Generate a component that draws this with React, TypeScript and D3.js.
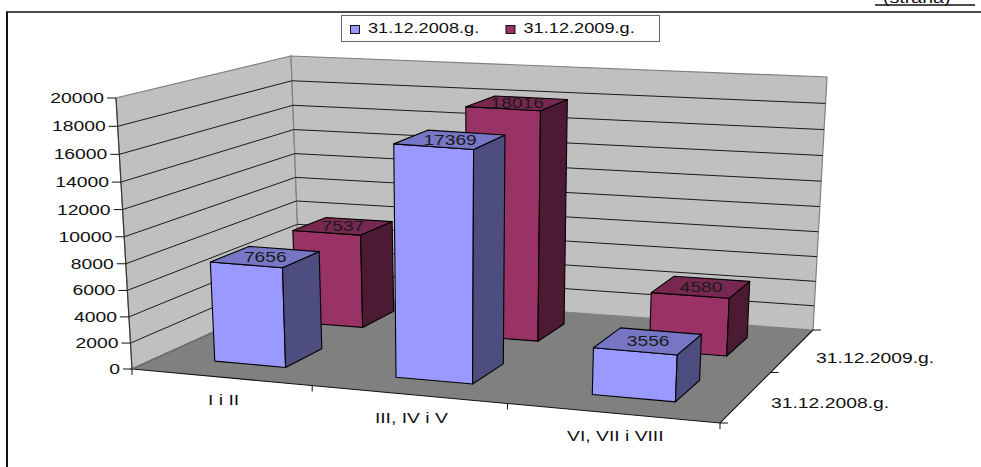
import React from "react";
import * as d3 from "d3";

const categories = ["I i II", "III, IV i V", "VI, VII i VIII"];
const seriesNames = ["31.12.2008.g.", "31.12.2009.g."];
const values2008 = [7656, 17369, 3556];
const values2009 = [7537, 18016, 4580];
const yTicks = [0, 2000, 4000, 6000, 8000, 10000, 12000, 14000, 16000, 18000, 20000];
const unitLabel = "(strana)";

const W = 981, H = 467;
type P = [number, number];
const floorQuad: P[] = [[132, 369], [720, 423], [813, 330], [300, 293]];
const topQuad: P[] = [[116, 98], [733, 143], [827, 77], [291, 56]];

// projective map of the unit square onto a quad
function quadMap(q: P[]) {
  const [[x0, y0], [x1, y1], [x2, y2], [x3, y3]] = q;
  const dx1 = x1 - x2, dx2 = x3 - x2, sx = x0 - x1 + x2 - x3;
  const dy1 = y1 - y2, dy2 = y3 - y2, sy = y0 - y1 + y2 - y3;
  const den = dx1 * dy2 - dx2 * dy1;
  const g = (sx * dy2 - dx2 * sy) / den;
  const h = (dx1 * sy - sx * dy1) / den;
  const a = x1 - x0 + g * x1, b = x3 - x0 + h * x3, c = x0;
  const d = y1 - y0 + g * y1, e = y3 - y0 + h * y3, f = y0;
  return (u: number, v: number): P => {
    const w = g * u + h * v + 1;
    return [(a * u + b * v + c) / w, (d * u + e * v + f) / w];
  };
}
const floorAt = quadMap(floorQuad);

const uScale = d3.scaleBand<string>().domain(categories).range([0.006, 1.006]).paddingInner(0.6).paddingOuter(0.3);
const dScale = d3.scaleBand<string>().domain(seriesNames).range([0, 1]).paddingInner(0.55).paddingOuter(0.3);
const vScale = d3.scaleLinear().domain([0, 20000]).range([0, 1]);

// a vertical edge's lift above the floor, blended between the four wall corners
function liftAt(u: number, d: number): P {
  const off = topQuad.map((p, i) => [p[0] - floorQuad[i][0], p[1] - floorQuad[i][1]]);
  const w = [(1 - u) * (1 - d), u * (1 - d), u * d, (1 - u) * d];
  return [d3.sum(off, (o, i) => o[0] * w[i]), d3.sum(off, (o, i) => o[1] * w[i])];
}

function project(u: number, d: number, v: number): P {
  const a = floorAt(u, d), l = liftAt(u, d);
  // slight vertical foreshortening, as in the reference's value axis
  const t = v / (v + (1 - v) * 1.05);
  return [a[0] + l[0] * t, a[1] + l[1] * t];
}
const poly = (pts: P[]) => (d3.line()(pts) as string) + "Z";

const FONT = "'Liberation Sans', Arial, sans-serif";
function Label(props: { x: number; y: number; text: string; anchor?: string; size?: number; sx?: number; fill?: string }) {
  const { x, y, text, anchor = "start", size = 14, sx = 1.38, fill = "#111" } = props;
  return (
    <text transform={`translate(${x},${y}) scale(${sx},1)`} textAnchor={anchor} fontFamily={FONT} fontSize={size} fill={fill}>
      {text}
    </text>
  );
}

const palettes = [
  { front: "#9999FF", top: "#7676C4", side: "#4D4D80" },
  { front: "#993366", top: "#772850", side: "#4D1A33" },
];
const seriesValues = [values2008, values2009];

function Bar(props: { cat: string; series: number }) {
  const { cat, series } = props;
  const val = seriesValues[series][categories.indexOf(cat)];
  const u0 = uScale(cat)!, u1 = u0 + uScale.bandwidth();
  const d0 = dScale(seriesNames[series])!, d1 = d0 + dScale.bandwidth();
  const v = vScale(val);
  const c = palettes[series];
  const stroke = { stroke: "#000", strokeWidth: 1.1, strokeLinejoin: "round" as const };
  const topFace = [project(u0, d0, v), project(u1, d0, v), project(u1, d1, v), project(u0, d1, v)];
  const centre = d3.polygonCentroid(topFace);
  return (
    <g>
      <path d={poly([project(u0, d0, 0), project(u1, d0, 0), project(u1, d0, v), project(u0, d0, v)])} fill={c.front} {...stroke} />
      <path d={poly([project(u1, d0, 0), project(u1, d1, 0), project(u1, d1, v), project(u1, d0, v)])} fill={c.side} {...stroke} />
      <path d={poly(topFace)} fill={c.top} {...stroke} />
      <Label x={centre[0]} y={centre[1] + 5} text={String(val)} anchor="middle" size={15} sx={1.28} fill="#1a1a1a" />
    </g>
  );
}

export default function App() {
  const uStep = uScale.step();
  const uBoundaries = categories.map((_, i) => (i + 1) / categories.length);
  const dMid = 0.5;
  return (
    <svg width={W} height={H} viewBox={`0 0 ${W} ${H}`} style={{ position: "absolute", left: 0, top: 0, background: "#fff" }}>
      <line x1={6} y1={12} x2={W} y2={12} stroke="#111" strokeWidth={1.6} />
      <line x1={7} y1={12} x2={7} y2={H} stroke="#111" strokeWidth={2} />
      <line x1={875} y1={5} x2={975} y2={5} stroke="#111" strokeWidth={1.4} />
      <Label x={883} y={3} text={unitLabel} size={14} sx={1.4} />

      {/* walls and floor */}
      <path d={poly([project(0, 0, 0), project(0, 1, 0), project(0, 1, 1), project(0, 0, 1)])} fill="#C0C0C0" stroke="#808080" strokeWidth={1.2} />
      <path d={poly([project(0, 1, 0), project(1, 1, 0), project(1, 1, 1), project(0, 1, 1)])} fill="#C0C0C0" stroke="#808080" strokeWidth={1.2} />
      {yTicks.filter((t) => t > 0 && t < 20000).map((t) => {
        const v = vScale(t);
        return (
          <path key={t} d={d3.line()([project(0, 0, v), project(0, 1, v), project(1, 1, v)]) as string} fill="none" stroke="#1a1a1a" strokeWidth={1} />
        );
      })}
      <path d={poly(floorQuad)} fill="#808080" />
      <path d={d3.line()([project(0, 1, 0), project(0, 0, 0), project(1, 0, 0), project(1, 1, 0)]) as string} fill="none" stroke="#111" strokeWidth={1.1} />
      <line x1={project(0, 0, 0)[0]} y1={project(0, 0, 0)[1]} x2={project(0, 1, 0)[0]} y2={project(0, 1, 0)[1]} stroke="#808080" strokeWidth={1.2} />
      <line x1={project(0, 0, 0)[0]} y1={project(0, 0, 0)[1]} x2={project(0, 0, 1)[0]} y2={project(0, 0, 1)[1]} stroke="#333" strokeWidth={1.1} />

      {/* value axis */}
      {yTicks.map((t) => {
        const [x, y] = project(0, 0, vScale(t));
        return (
          <g key={t}>
            <line x1={x - 9} y1={y} x2={x} y2={y} stroke="#111" strokeWidth={1} />
            <Label x={x - 12} y={y + 5} text={String(t)} anchor="end" />
          </g>
        );
      })}

      {/* category axis */}
      {[0, ...uBoundaries].map((u) => {
        const [x, y] = project(u, 0, 0);
        return <line key={u} x1={x} y1={y} x2={x} y2={y + 6} stroke="#111" strokeWidth={1} />;
      })}
      {categories.map((c) => {
        const [x, y] = project(uScale(c)! + uStep * 0.2, 0, 0);
        return <Label key={c} x={x} y={y + 28} text={c} anchor="middle" />;
      })}

      {/* depth axis */}
      {[0, dMid, 1].map((d) => {
        const [x, y] = project(1, d, 0);
        return <line key={d} x1={x} y1={y} x2={x + 8} y2={y} stroke="#111" strokeWidth={1} />;
      })}
      {seriesNames.map((s) => {
        const [x, y] = project(1, dScale(s)! + dScale.bandwidth() / 2, 0);
        return <Label key={s} x={x + 24} y={y + 12} text={s} />;
      })}

      {/* bars, back row first */}
      {[1, 0].map((s) => categories.map((c) => <Bar key={`${s}-${c}`} cat={c} series={s} />))}

      {/* legend */}
      <rect x={341.5} y={15.5} width={318} height={26} fill="#fff" stroke="#666" strokeWidth={1} />
      {seriesNames.map((s, i) => {
        const x = i === 0 ? 350 : 505.5;
        return (
          <g key={s}>
            <rect x={x + 0.5} y={25.5} width={9} height={8} fill={palettes[i].front} stroke="#111" strokeWidth={1} />
            <Label x={x + 18} y={33} text={s} sx={1.3} />
          </g>
        );
      })}
    </svg>
  );
}
